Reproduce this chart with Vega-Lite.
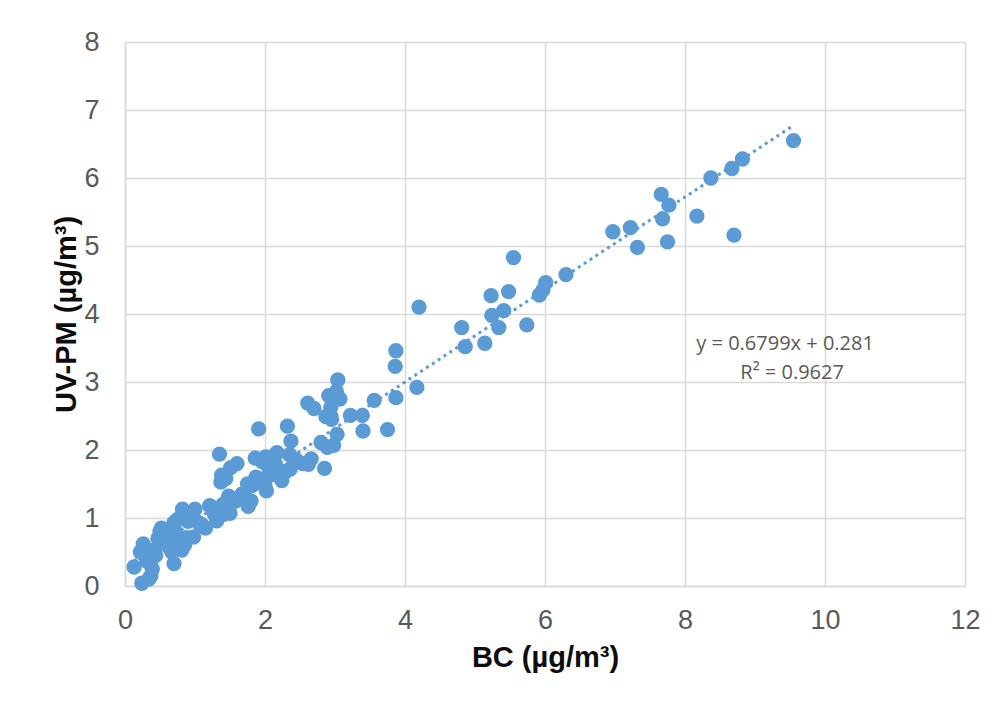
{
  "$schema": "https://vega.github.io/schema/vega-lite/v6.json",
  "width": 840,
  "height": 544,
  "autosize": {"type": "none"},
  "padding": {"left": 125, "top": 42, "right": 32, "bottom": 118},
  "background": "white",
  "config": {
    "view": {"stroke": null},
    "font": "Liberation Sans",
    "axis": {
      "titleFont": "Liberation Sans", "titleFontSize": 29, "titleFontWeight": "bold", "titleColor": "#0d0d0d",
      "labelFont": "Liberation Sans", "labelFontSize": 27, "labelColor": "#595959",
      "ticks": false, "domainColor": "#D9D9D9", "domainWidth": 1.5,
      "gridColor": "#D9D9D9", "gridWidth": 1.5, "labelFlush": false, "labelOverlap": false
    }
  },
  "datasets": {
    "pts": [
      {"bc": 9.55, "uv": 6.55}, {"bc": 8.82, "uv": 6.28}, {"bc": 8.67, "uv": 6.14}, {"bc": 8.37, "uv": 6.0},
      {"bc": 7.66, "uv": 5.76}, {"bc": 7.77, "uv": 5.6}, {"bc": 7.68, "uv": 5.4}, {"bc": 8.17, "uv": 5.44},
      {"bc": 8.7, "uv": 5.16}, {"bc": 7.75, "uv": 5.06}, {"bc": 7.32, "uv": 4.98}, {"bc": 7.22, "uv": 5.27},
      {"bc": 6.97, "uv": 5.21}, {"bc": 6.3, "uv": 4.58}, {"bc": 6.01, "uv": 4.46}, {"bc": 5.97, "uv": 4.35},
      {"bc": 5.92, "uv": 4.28}, {"bc": 5.55, "uv": 4.83}, {"bc": 5.48, "uv": 4.33}, {"bc": 5.23, "uv": 4.27},
      {"bc": 5.41, "uv": 4.05}, {"bc": 5.24, "uv": 3.98}, {"bc": 5.34, "uv": 3.8}, {"bc": 5.74, "uv": 3.84},
      {"bc": 4.81, "uv": 3.8}, {"bc": 4.86, "uv": 3.52}, {"bc": 5.14, "uv": 3.57}, {"bc": 4.2, "uv": 4.1},
      {"bc": 4.17, "uv": 2.92}, {"bc": 3.87, "uv": 3.46}, {"bc": 3.86, "uv": 3.23}, {"bc": 3.87, "uv": 2.77},
      {"bc": 3.56, "uv": 2.73}, {"bc": 3.75, "uv": 2.3}, {"bc": 3.4, "uv": 2.28}, {"bc": 3.39, "uv": 2.51},
      {"bc": 3.22, "uv": 2.51}, {"bc": 3.04, "uv": 3.03}, {"bc": 3.02, "uv": 2.86}, {"bc": 2.91, "uv": 2.8},
      {"bc": 3.07, "uv": 2.75}, {"bc": 2.94, "uv": 2.63}, {"bc": 2.94, "uv": 2.5}, {"bc": 2.87, "uv": 2.49},
      {"bc": 2.95, "uv": 2.45}, {"bc": 2.61, "uv": 2.69}, {"bc": 2.7, "uv": 2.61}, {"bc": 3.03, "uv": 2.23},
      {"bc": 2.98, "uv": 2.07}, {"bc": 2.89, "uv": 2.04}, {"bc": 2.8, "uv": 2.11}, {"bc": 2.85, "uv": 1.73},
      {"bc": 2.66, "uv": 1.87}, {"bc": 2.62, "uv": 1.79}, {"bc": 2.54, "uv": 1.8}, {"bc": 2.32, "uv": 2.35},
      {"bc": 2.37, "uv": 2.13}, {"bc": 1.91, "uv": 2.31}, {"bc": 2.35, "uv": 1.93}, {"bc": 2.17, "uv": 1.96},
      {"bc": 2.1, "uv": 1.9}, {"bc": 2.01, "uv": 1.9}, {"bc": 1.96, "uv": 1.83}, {"bc": 1.86, "uv": 1.88},
      {"bc": 2.36, "uv": 1.72}, {"bc": 2.24, "uv": 1.55}, {"bc": 2.29, "uv": 1.68}, {"bc": 2.15, "uv": 1.79},
      {"bc": 2.08, "uv": 1.63}, {"bc": 2.02, "uv": 1.4}, {"bc": 2.0, "uv": 1.47}, {"bc": 1.96, "uv": 1.57},
      {"bc": 1.87, "uv": 1.6}, {"bc": 1.82, "uv": 1.48}, {"bc": 1.75, "uv": 1.5}, {"bc": 1.72, "uv": 1.3},
      {"bc": 1.76, "uv": 1.17}, {"bc": 1.6, "uv": 1.8}, {"bc": 1.51, "uv": 1.74}, {"bc": 1.35, "uv": 1.94},
      {"bc": 1.38, "uv": 1.63}, {"bc": 1.37, "uv": 1.53}, {"bc": 1.44, "uv": 1.58}, {"bc": 1.48, "uv": 1.32},
      {"bc": 1.58, "uv": 1.25}, {"bc": 1.45, "uv": 1.16}, {"bc": 1.4, "uv": 1.2}, {"bc": 1.5, "uv": 1.07},
      {"bc": 1.4, "uv": 1.05}, {"bc": 1.31, "uv": 0.96}, {"bc": 1.25, "uv": 1.15}, {"bc": 1.21, "uv": 1.18},
      {"bc": 1.15, "uv": 0.85}, {"bc": 1.05, "uv": 0.93}, {"bc": 1.0, "uv": 1.13}, {"bc": 0.95, "uv": 1.03},
      {"bc": 0.9, "uv": 0.95}, {"bc": 0.82, "uv": 1.13}, {"bc": 0.88, "uv": 0.71}, {"bc": 0.81, "uv": 0.53},
      {"bc": 0.85, "uv": 0.6}, {"bc": 0.75, "uv": 0.98}, {"bc": 0.7, "uv": 0.93}, {"bc": 0.72, "uv": 0.8},
      {"bc": 0.68, "uv": 0.65}, {"bc": 0.67, "uv": 0.5}, {"bc": 0.7, "uv": 0.33}, {"bc": 0.58, "uv": 0.77},
      {"bc": 0.52, "uv": 0.85}, {"bc": 0.5, "uv": 0.8}, {"bc": 0.55, "uv": 0.65}, {"bc": 0.47, "uv": 0.7},
      {"bc": 0.44, "uv": 0.45}, {"bc": 0.38, "uv": 0.4}, {"bc": 0.39, "uv": 0.25}, {"bc": 0.37, "uv": 0.15},
      {"bc": 0.34, "uv": 0.1}, {"bc": 0.28, "uv": 0.45}, {"bc": 0.26, "uv": 0.62}, {"bc": 0.26, "uv": 0.55},
      {"bc": 0.22, "uv": 0.5}, {"bc": 0.13, "uv": 0.28}, {"bc": 0.24, "uv": 0.04}, {"bc": 0.32, "uv": 0.36},
      {"bc": 0.42, "uv": 0.53}, {"bc": 0.62, "uv": 0.58}, {"bc": 0.98, "uv": 0.72}, {"bc": 1.1, "uv": 0.9},
      {"bc": 1.28, "uv": 1.05}, {"bc": 1.67, "uv": 1.35}, {"bc": 1.8, "uv": 1.25}, {"bc": 2.05, "uv": 1.75},
      {"bc": 2.2, "uv": 1.7}, {"bc": 2.45, "uv": 1.85}
    ],
    "trend": [
      {"bc": 0.13, "uv": 0.369},
      {"bc": 9.55, "uv": 6.774}
    ],
    "eq": [
      {"bc": 9.43, "uv": 3.56, "label": "y = 0.6799x + 0.281"},
      {"bc": 9.53, "uv": 3.13, "label": "R² = 0.9627"}
    ]
  },
  "encoding": {
    "x": {
      "field": "bc", "type": "quantitative",
      "scale": {"domain": [0, 12], "nice": false, "zero": true},
      "axis": {
        "values": [0, 2, 4, 6, 8, 10, 12], "format": "d",
        "title": "BC (µg/m³)", "titlePadding": 10, "labelPadding": 21
      }
    },
    "y": {
      "field": "uv", "type": "quantitative",
      "scale": {"domain": [0, 8], "nice": false, "zero": true},
      "axis": {
        "values": [0, 1, 2, 3, 4, 5, 6, 7, 8], "format": "d",
        "title": "UV-PM (µg/m³)", "titlePadding": 2, "labelPadding": 26
      }
    }
  },
  "layer": [
    {
      "data": {"name": "pts"},
      "mark": {"type": "point", "filled": true, "shape": "circle", "size": 235, "color": "#5B9BD5", "opacity": 1}
    },
    {
      "data": {"name": "trend"},
      "mark": {"type": "line", "color": "#5B9BD5", "strokeWidth": 3, "strokeDash": [3, 4], "strokeCap": "butt"}
    },
    {
      "data": {"name": "eq"},
      "mark": {"type": "text", "font": "Open Sans", "fontSize": 20, "color": "#595959", "align": "center", "baseline": "middle"},
      "encoding": {
        "text": {"field": "label"}
      }
    }
  ]
}
